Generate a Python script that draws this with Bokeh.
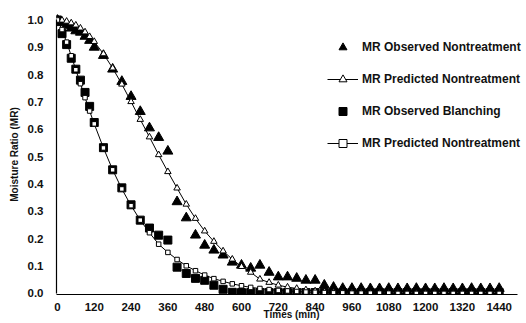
from bokeh.plotting import figure
from bokeh.models import (Range1d, FixedTicker, PrintfTickFormatter, Legend, LegendItem)
from bokeh.embed import file_html
from bokeh.resources import INLINE

times = [0, 15, 30, 45, 60, 75, 90, 105, 120, 150, 180, 210, 240, 270, 300, 330, 360,
         390, 420, 450, 480, 510, 540, 570, 600, 630, 660, 690, 720, 750, 780, 810, 840,
         870, 900, 930, 960, 990, 1020, 1050, 1080, 1110, 1140, 1170, 1200, 1230, 1260,
         1290, 1320, 1350, 1380, 1410, 1440]

obs_nontreat = [1.00, 0.99, 0.98, 0.97, 0.96, 0.955, 0.94, 0.925, 0.90, 0.87, 0.82, 0.775,
                0.72, 0.665, 0.605, 0.57, 0.52, 0.335, 0.276, 0.213, 0.176, 0.158, 0.14,
                0.114, 0.103, 0.092, 0.103, 0.077, 0.060, 0.060, 0.055, 0.048, 0.048, 0.030,
                0.022, 0.018, 0.018, 0.018, 0.017, 0.017, 0.018, 0.017, 0.017, 0.018, 0.017,
                0.017, 0.018, 0.017, 0.017, 0.018, 0.017, 0.017, 0.018]

pred_nontreat = [1.00, 0.999, 0.995, 0.989, 0.981, 0.970, 0.956, 0.939, 0.921, 0.876, 0.824,
                 0.765, 0.701, 0.636, 0.572, 0.507, 0.445, 0.385, 0.326, 0.274, 0.228, 0.190,
                 0.155, 0.125, 0.098, 0.077, 0.052, 0.040, 0.030, 0.023, 0.018, 0.013, 0.009,
                 0.006, 0.004, 0.003, 0.002, 0.002, 0.001, 0.001, 0.001, 0.001, 0.0, 0.0, 0.0,
                 0.0, 0.0, 0.0, 0.0, 0.0, 0.0, 0.0, 0.0]

obs_blanch = [1.00, 0.95, 0.91, 0.86, 0.82, 0.78, 0.735, 0.684, 0.625, 0.533, 0.452, 0.386,
              0.324, 0.268, 0.239, 0.213, 0.195, 0.096, 0.073, 0.055, 0.048, 0.030, 0.015,
              0.004, 0.003, 0.003, 0.003, 0.003, 0.003, 0.003, 0.003, 0.003, 0.003, 0.003,
              0.003, 0.003, 0.003, 0.003, 0.003, 0.003, 0.003, 0.003, 0.003, 0.003, 0.003,
              0.003, 0.003, 0.003, 0.003, 0.003, 0.003, 0.003, 0.003]

pred_blanch = [1.00, 0.965, 0.919, 0.869, 0.818, 0.767, 0.716, 0.667, 0.620, 0.532, 0.452,
               0.382, 0.321, 0.268, 0.222, 0.180, 0.150, 0.124, 0.101, 0.083, 0.067, 0.054,
               0.044, 0.035, 0.028, 0.022, 0.018, 0.014, 0.011, 0.009, 0.007, 0.005, 0.004,
               0.003, 0.002, 0.002, 0.001, 0.001, 0.001, 0.001, 0.001, 0.0, 0.0, 0.0, 0.0,
               0.0, 0.0, 0.0, 0.0, 0.0, 0.0, 0.0, 0.0]

x_ticks = [0, 120, 240, 360, 480, 600, 720, 840, 960, 1080, 1200, 1320, 1440]
y_ticks = [0.0, 0.1, 0.2, 0.3, 0.4, 0.5, 0.6, 0.7, 0.8, 0.9, 1.0]

labels = ["MR Observed Nontreatment", "MR Predicted Nontreatment",
          "MR Observed Blanching", "MR Predicted Nontreatment"]

FONT = "Liberation Sans"
INK = "#111111"

p = figure(width=526, height=323, output_backend="svg", toolbar_location=None,
           x_range=Range1d(-3, 1529), y_range=Range1d(-0.004, 1.02),
           min_border_left=56, min_border_right=0, min_border_top=14, min_border_bottom=29)
p.outline_line_color = None
p.grid.visible = False
p.background_fill_color = "white"

# axes
for ax in (p.xaxis[0], p.yaxis[0]):
    ax.major_tick_out = 0
    ax.major_tick_in = 0
    ax.minor_tick_out = 0
    ax.minor_tick_in = 0
    ax.axis_line_color = "black"
    ax.axis_line_width = 1.2
    ax.major_label_text_font = FONT
    ax.major_label_text_font_style = "bold"
    ax.major_label_text_font_size = "11.5px"
    ax.major_label_text_color = INK
    ax.axis_label_text_font = FONT
    ax.axis_label_text_font_style = "bold"
    ax.axis_label_text_font_size = "10px"
    ax.axis_label_text_color = INK

p.xaxis.ticker = FixedTicker(ticks=x_ticks)
p.yaxis.ticker = FixedTicker(ticks=y_ticks)
p.yaxis.formatter = PrintfTickFormatter(format="%.1f")
p.yaxis.bounds = (0, 1.0)
p.xaxis.bounds = (-3, 1500)
p.xaxis.axis_label = "Times (min)"
p.yaxis.axis_label = "Moisture Ratio (MR)"
p.xaxis.major_label_standoff = 8
p.xaxis.axis_label_standoff = -5
p.yaxis.major_label_standoff = 13
p.yaxis.axis_label_standoff = 5

# observed data
r_obs_nt = p.scatter(times, obs_nontreat, marker="triangle", size=10,
                     fill_color="black", line_color="black")
r_obs_bl = p.scatter(times, obs_blanch, marker="square", size=8,
                     fill_color="black", line_color="black")

# predicted data
l_pred_nt = p.line(times, pred_nontreat, line_color="black", line_width=1)
r_pred_nt = p.scatter(times, pred_nontreat, marker="triangle", size=6.5,
                      fill_color="white", line_color="black", line_width=1)
l_pred_bl = p.line(times, pred_blanch, line_color="black", line_width=1)
r_pred_bl = p.scatter(times, pred_blanch, marker="square", size=4.5,
                      fill_color="white", line_color="black", line_width=1)

legend = Legend(items=[
    LegendItem(label=labels[0], renderers=[r_obs_nt]),
    LegendItem(label=labels[1], renderers=[l_pred_nt, r_pred_nt]),
    LegendItem(label=labels[2], renderers=[r_obs_bl]),
    LegendItem(label=labels[3], renderers=[l_pred_bl, r_pred_bl]),
], location=(271, 141))
legend.glyph_width = 31
legend.glyph_height = 20
legend.label_height = 20
legend.label_standoff = 4
legend.spacing = 12
legend.padding = 0
legend.margin = 0
legend.border_line_color = None
legend.background_fill_alpha = 0
legend.label_text_font = FONT
legend.label_text_font_style = "bold"
legend.label_text_font_size = "12px"
legend.label_text_color = INK
p.add_layout(legend, "center")

open("out.html", "w").write(file_html(p, INLINE))
